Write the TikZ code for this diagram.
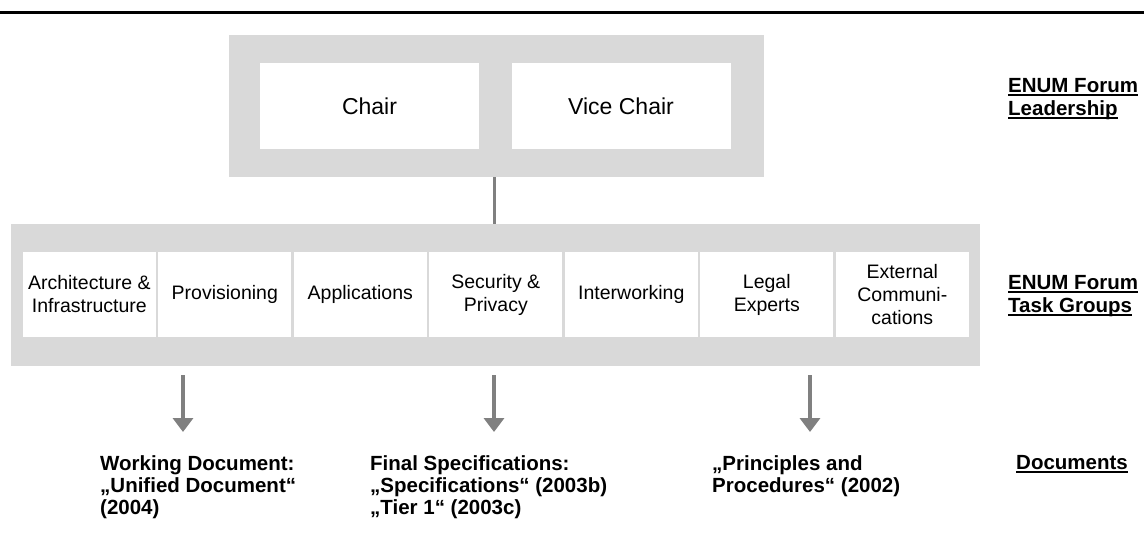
\documentclass[tikz,border=0pt]{standalone}
\usepackage{fontspec}
\setmainfont{Liberation Sans}
\usetikzlibrary{positioning, arrows.meta}
\definecolor{panelgrey}{RGB}{217,217,217}
\definecolor{linkgrey}{RGB}{128,128,128}
\newcommand{\ulabel}[1]{\setbox0\hbox{#1}\rlap{\rule[-3.2pt]{\wd0}{1.8pt}}\box0}

\begin{document}
\begin{tikzpicture}[x=1pt,y=-1pt,node distance=135.5pt,on grid,
  panel/.style={fill=panelgrey},
  lead/.style={fill=white,minimum width=219pt,minimum height=86pt,
    font=\fontsize{23}{26}\selectfont},
  group/.style={fill=white,minimum width=133.3pt,minimum height=85pt,inner sep=0pt,
    align=center,font=\fontsize{19.5}{23}\selectfont},
  doc/.style={anchor=north west,inner sep=0pt,align=left,
    font=\bfseries\fontsize{20.5}{22}\selectfont},
  level/.style={anchor=north west,inner sep=0pt,align=left,
    font=\bfseries\fontsize{20.5}{23}\selectfont},
  link/.style={draw=linkgrey,line width=3pt},
  docarrow/.style={draw=linkgrey,line width=4.5pt,-{Triangle[width=20pt,length=14pt]}}]
  \useasboundingbox (0,0) rectangle (1144,544);
  \draw[line width=3pt] (0,12) -- (1144,12);

  % leadership
  \path[panel] (229,35) rectangle (764,177);
  \node[lead] (chair) at (369.5,106) {Chair};
  \node[lead] (vice) at (621,106) {Vice Chair};
  \coordinate (leadbot) at (494,177);

  % task groups
  \path[panel] (11,224) rectangle (980,366);
  \coordinate (grouptop) at (494,224);
  \node[group] (arch) at (89.3,294.5) {Architecture \&\\Infrastructure};
  \node[group] (prov) [right=of arch] {Provisioning};
  \node[group] (appl) [right=of prov] {Applications};
  \node[group] (sec) [right=of appl] {Security \&\\Privacy};
  \node[group] (inter) [right=of sec] {Interworking};
  \node[group] (legal) [right=of inter] {Legal\\Experts};
  \node[group] (ext) [right=of legal] {External\\Communi-\\cations};
  \path[link] (leadbot) -- (grouptop);

  % documents
  \coordinate (a1) at (183,375);
  \coordinate (a2) at (494,375);
  \coordinate (a3) at (810,375);
  \node[doc] (working) at (100,455) {Working Document:\\„Unified Document“\\(2004)};
  \node[doc] (final) at (370,455) {Final Specifications:\\„Specifications“ (2003b)\\„Tier 1“ (2003c)};
  \node[doc] (rules) at (712,455) {„Principles and\\Procedures“ (2002)};
  \path[docarrow] (a1) -- ++(0,57);
  \path[docarrow] (a2) -- ++(0,57);
  \path[docarrow] (a3) -- ++(0,57);

  % levels
  \node[level] (lvl1) at (1008,78) {\ulabel{ENUM Forum}\\\ulabel{Leadership}};
  \node[level] (lvl2) at (1008,275) {\ulabel{ENUM Forum}\\\ulabel{Task Groups}};
  \node[level] (lvl3) at (1016,455) {\ulabel{Documents}};
\end{tikzpicture}
\end{document}
